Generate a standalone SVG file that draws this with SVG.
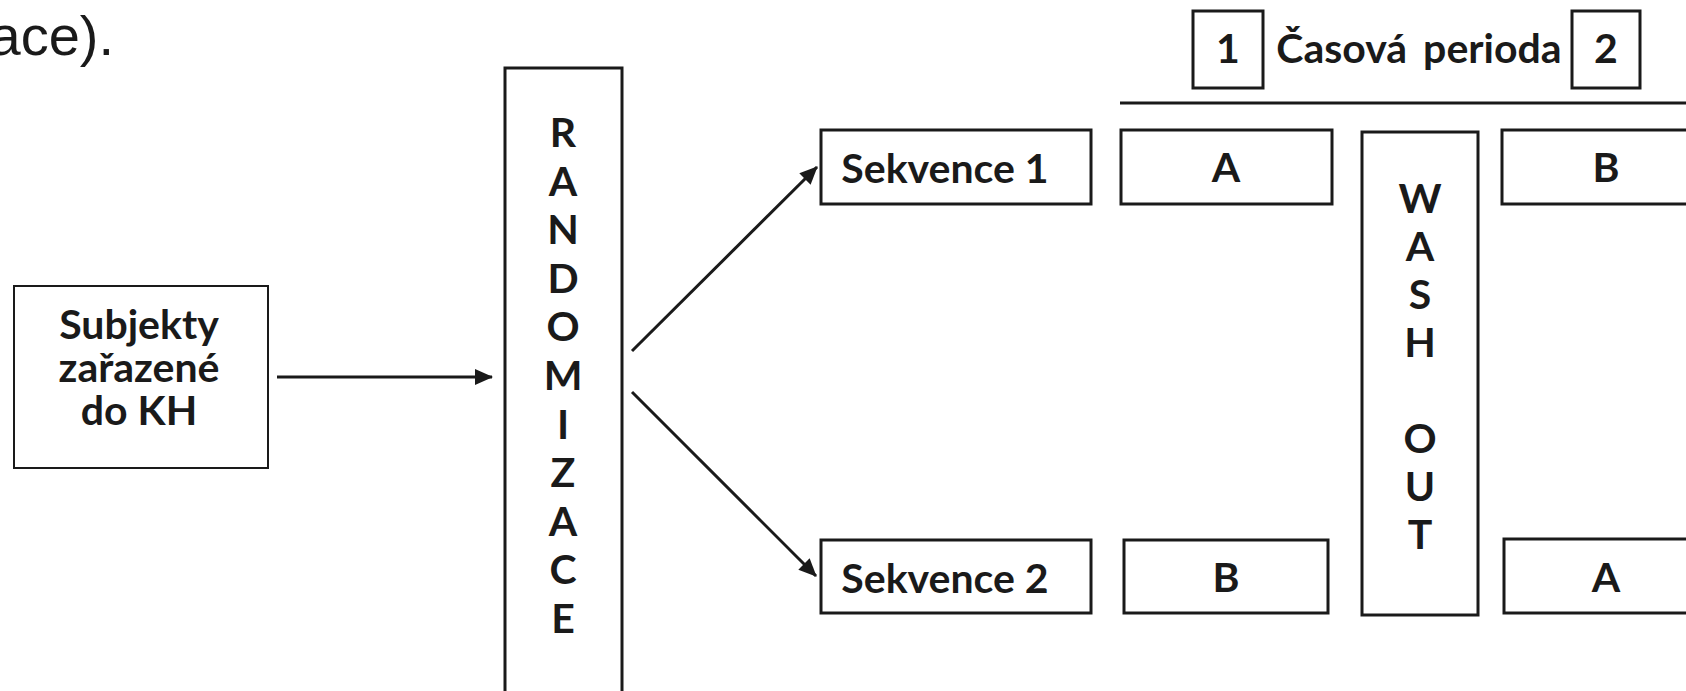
<svg xmlns="http://www.w3.org/2000/svg" width="1686" height="691" viewBox="0 0 1686 691">
  <style>
    .box { fill: #ffffff; stroke: #1a1a1a; stroke-width: 3; }
    .thin { stroke-width: 2; }
    .lbl { font-family: Lato, "Open Sans", "Liberation Sans", sans-serif; font-weight: bold; font-size: 41px; fill: #1a1a1a; text-anchor: middle; }
    .conn { stroke: #1a1a1a; stroke-width: 3; fill: none; }
    .body { font-family: "Liberation Sans", Arial, sans-serif; font-size: 56px; fill: #1a1a1a; }
  </style>
  <defs>
    <marker id="arrow" markerUnits="userSpaceOnUse" markerWidth="18" markerHeight="16" refX="17" refY="8" orient="auto">
      <path d="M0,0 L18,8 L0,16 z" fill="#1a1a1a"/>
    </marker>
  </defs>

  <rect width="1686" height="691" fill="#ffffff"/>

  <!-- tail of the preceding sentence -->
  <text class="body" x="114" y="55" text-anchor="end">ace).</text>

  <!-- period header -->
  <g id="period-header">
    <rect class="box" x="1193" y="11" width="70" height="77"/>
    <text class="lbl" x="1228" y="63">1</text>
    <text class="lbl" x="1419" y="63" word-spacing="6">Časová perioda</text>
    <rect class="box" x="1572" y="11" width="68" height="77"/>
    <text class="lbl" x="1606" y="63">2</text>
    <line class="conn" x1="1120" y1="103" x2="1686" y2="103"/>
  </g>

  <g id="subjekty">
    <rect class="box thin" x="14" y="286" width="254" height="182"/>
    <text class="lbl" x="139" y="339">Subjekty</text>
    <text class="lbl" x="139" y="382">zařazené</text>
    <text class="lbl" x="139" y="425">do KH</text>
  </g>

  <g id="randomizace">
    <rect class="box" x="505" y="68" width="117" height="640"/>
    <text class="lbl" x="563" y="147">R</text>
    <text class="lbl" x="563" y="196">A</text>
    <text class="lbl" x="563" y="244">N</text>
    <text class="lbl" x="563" y="293">D</text>
    <text class="lbl" x="563" y="341">O</text>
    <text class="lbl" x="563" y="390">M</text>
    <text class="lbl" x="563" y="439">I</text>
    <text class="lbl" x="563" y="487">Z</text>
    <text class="lbl" x="563" y="536">A</text>
    <text class="lbl" x="563" y="584">C</text>
    <text class="lbl" x="563" y="633">E</text>
  </g>

  <g id="sekvence-1">
    <rect class="box" x="821" y="130" width="270" height="74"/>
    <text class="lbl" x="945" y="183">Sekvence 1</text>
  </g>
  <g id="sekvence-2">
    <rect class="box" x="821" y="540" width="270" height="73"/>
    <text class="lbl" x="945" y="593">Sekvence 2</text>
  </g>

  <g id="period1-seq1">
    <rect class="box" x="1121" y="130" width="211" height="74"/>
    <text class="lbl" x="1226" y="182">A</text>
  </g>
  <g id="period1-seq2">
    <rect class="box" x="1124" y="540" width="204" height="73"/>
    <text class="lbl" x="1226" y="592">B</text>
  </g>

  <g id="wash-out">
    <rect class="box" x="1362" y="132" width="116" height="483"/>
    <text class="lbl" x="1420" y="213">W</text>
    <text class="lbl" x="1420" y="261">A</text>
    <text class="lbl" x="1420" y="309">S</text>
    <text class="lbl" x="1420" y="357">H</text>
    <text class="lbl" x="1420" y="453">O</text>
    <text class="lbl" x="1420" y="501">U</text>
    <text class="lbl" x="1420" y="549">T</text>
  </g>

  <g id="period2-seq1">
    <rect class="box" x="1502" y="130" width="210" height="74"/>
    <text class="lbl" x="1606" y="182">B</text>
  </g>
  <g id="period2-seq2">
    <rect class="box" x="1504" y="539" width="210" height="74"/>
    <text class="lbl" x="1606" y="592">A</text>
  </g>

  <g id="connectors">
    <line class="conn" x1="277" y1="377" x2="492" y2="377" marker-end="url(#arrow)"/>
    <line class="conn" x1="632" y1="351" x2="817" y2="167" marker-end="url(#arrow)"/>
    <line class="conn" x1="632" y1="392" x2="816" y2="576" marker-end="url(#arrow)"/>
  </g>
</svg>
